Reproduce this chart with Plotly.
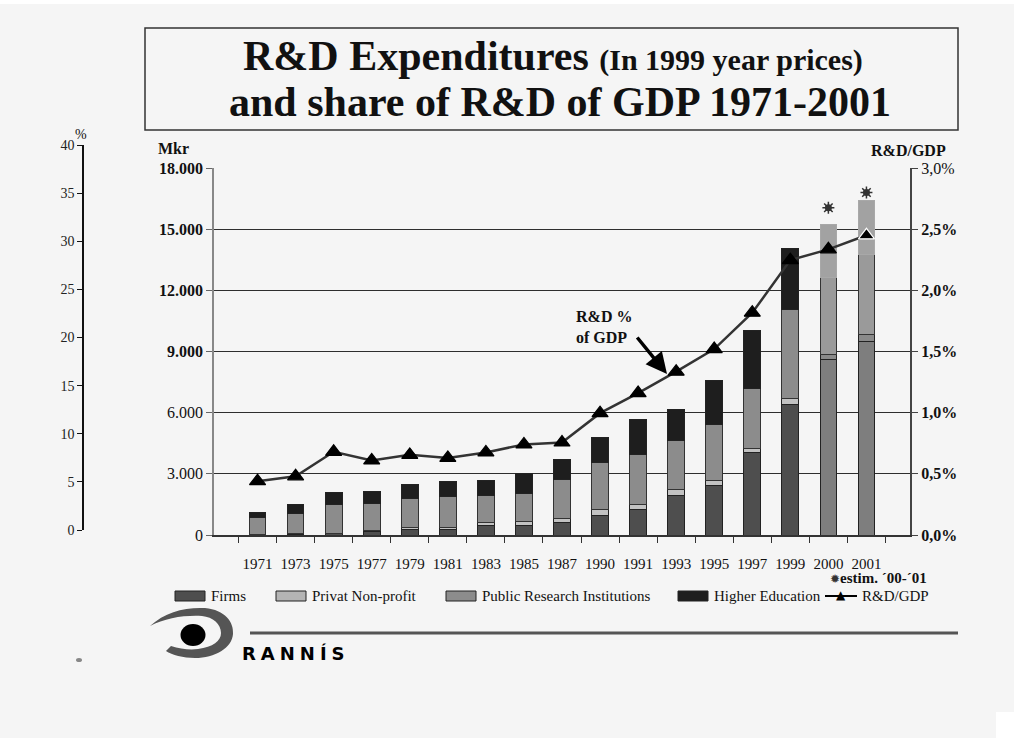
import plotly.graph_objects as go

# ---------------- data ----------------
years = ['1971', '1973', '1975', '1977', '1979', '1981', '1983', '1985', '1987',
         '1990', '1991', '1993', '1995', '1997', '1999', '2000', '2001']
firms = [20, 40, 70, 150, 260, 260, 470, 470, 617, 946, 1240, 1926, 2416, 4067, 6385, 8590, 9487]
nonprofit = [10, 10, 10, 60, 112, 112, 147, 216, 216, 328, 279, 294, 259, 196, 328, 279, 362]
public = [833, 1008, 1420, 1340, 1407, 1521, 1323, 1372, 1877, 2283, 2431, 2416, 2745, 2906, 4361, 3773, 3886]
higher = [264, 461, 572, 570, 721, 719, 755, 946, 1014, 1211, 1700, 1504, 2141, 2857, 2989, 2597, 2695]
rd_gdp = [0.44, 0.48, 0.68, 0.61, 0.655, 0.63, 0.675, 0.74, 0.756, 0.996, 1.16, 1.335, 1.52,
          1.817, 2.247, 2.335, 2.45]
est_years = ['2000', '2001']
est_marker = [16050, 16800]

series_names = ['Firms', 'Privat Non-profit', 'Public Research Institutions', 'Higher Education']
left_ticks = [0, 3000, 6000, 9000, 12000, 15000, 18000]
left_ticktext = ['0', '3.000', '6.000', '<b>9.000</b>', '<b>12.000</b>', '<b>15.000</b>', '<b>18.000</b>']
right_ticks = [0, 0.5, 1.0, 1.5, 2.0, 2.5, 3.0]
right_ticktext = ['<b>0,0%</b>', '<b>0,5%</b>', '<b>1,0%</b>', '<b>1,5%</b>', '<b>2,0%</b>', '<b>2,5%</b>', '3,0%']

# ---------------- layout geometry ----------------
W, H = 1014, 738
ML, MR, MT, MB = 83, 104, 145, 203
PW = W - ML - MR
PH = H - MT - MB


def px(x, y):
    return (x - ML) / PW, (H - MB - y) / PH


SERIF = 'Liberation Serif, Times New Roman, serif'
is_est = [y in est_years for y in years]

firm_col = ['#7e7e7e' if e else '#4e4e4e' for e in is_est]
np_col = ['#8a8a8a' if e else '#c2c2c2' for e in is_est]
pub_col = ['#9a9a9a' if e else '#8c8c8c' for e in is_est]
he_col = ['#a2a2a2' if e else '#1e1e1e' for e in is_est]
he_line = ['#a8a8a8' if e else '#222222' for e in is_est]

fig = go.Figure()
for vals, cols, lcol, name in [(firms, firm_col, '#222222', series_names[0]),
                               (nonprofit, np_col, '#222222', series_names[1]),
                               (public, pub_col, '#333333', series_names[2]),
                               (higher, he_col, he_line, series_names[3])]:
    fig.add_trace(go.Bar(x=years, y=vals, name=name, width=0.44,
                         marker=dict(color=cols, line=dict(color=lcol, width=1)),
                         showlegend=False))

# estimate markers (small sunburst)
fig.add_trace(go.Scatter(x=est_years, y=est_marker, mode='markers', showlegend=False,
                         marker=dict(symbol='asterisk-open', size=10, color='#333333',
                                     line=dict(width=1.5, color='#333333'))))
fig.add_trace(go.Scatter(x=est_years, y=est_marker, mode='markers', showlegend=False,
                         marker=dict(symbol='circle', size=7, color='#333333')))

# R&D / GDP line
mline_col = ['#000000'] * (len(years) - 1) + ['#ffffff']
fig.add_trace(go.Scatter(x=years, y=rd_gdp, yaxis='y2', mode='lines+markers', name='R&D/GDP',
                         showlegend=False,
                         line=dict(color='#333333', width=2.5),
                         marker=dict(symbol='triangle-up', size=14, color='#000000',
                                     line=dict(color=mline_col, width=1.2))))

# invisible trace to hold the left "%" axis
fig.add_trace(go.Scatter(x=[years[0]], y=[0], yaxis='y3', mode='markers', showlegend=False,
                         marker=dict(opacity=0), hoverinfo='skip'))

xdom0 = (214 - ML) / PW
ytop_main = (H - MB - 168) / PH
y3_0 = (H - MB - 530) / PH

fig.update_layout(
    width=W, height=H,
    margin=dict(l=ML, r=MR, t=MT, b=MB),
    paper_bgcolor='#f5f5f5', plot_bgcolor='rgba(0,0,0,0)',
    barmode='stack',
    font=dict(family=SERIF, color='#111111'),
    xaxis=dict(domain=[xdom0, 1], type='category', anchor='y',
               showgrid=False, showline=True, linecolor='#333333', linewidth=1.5,
               ticks='outside', tickson='boundaries', ticklen=6, tickcolor='#333333',
               tickangle=0,
               tickfont=dict(family=SERIF, size=15, color='#111111'),
               ticklabelstandoff=14, automargin=False),
    yaxis=dict(domain=[0, ytop_main], range=[0, 18000], tickvals=left_ticks, ticktext=left_ticktext,
               showgrid=True, gridcolor='#2e2e2e', gridwidth=1.3, zeroline=False,
               showline=True, linecolor='#888888', linewidth=1.5,
               ticks='outside', ticklen=6, tickcolor='#666666',
               tickfont=dict(family=SERIF, size=16, color='#111111'), automargin=False),
    yaxis2=dict(overlaying='y', side='right', anchor='x', range=[0, 3.0],
                tickvals=right_ticks, ticktext=right_ticktext, showgrid=False, zeroline=False,
                showline=True, linecolor='#444444', linewidth=2,
                ticks='outside', ticklen=6, tickcolor='#444444',
                tickfont=dict(family=SERIF, size=16, color='#111111'), automargin=False),
    yaxis3=dict(domain=[y3_0, 1], anchor='free', position=0, range=[0, 40], dtick=5,
                showgrid=False, zeroline=False, showline=True, linecolor='#111111', linewidth=1.5,
                ticks='outside', ticklen=5, tickcolor='#111111',
                tickfont=dict(family=SERIF, size=14, color='#222222'), automargin=False),
)

shapes = []
annotations = []

# title box
x0, y0 = px(145, 28)
x1, y1 = px(958, 130)
shapes.append(dict(type='rect', xref='paper', yref='paper', x0=x0, y0=y1, x1=x1, y1=y0,
                   line=dict(color='#333333', width=1.5), fillcolor='rgba(0,0,0,0)'))
tx, ty = px(553, 56)
annotations.append(dict(xref='paper', yref='paper', x=tx, y=ty, showarrow=False,
                        xanchor='center', yanchor='middle',
                        text="<b>R&D Expenditures <span style='font-size:30px'>(In 1999 year prices)</span></b>",
                        font=dict(family=SERIF, size=42, color='#111111')))
tx, ty = px(560, 102)
annotations.append(dict(xref='paper', yref='paper', x=tx, y=ty, showarrow=False,
                        xanchor='center', yanchor='middle',
                        text='<b>and share of R&D of GDP 1971-2001</b>',
                        font=dict(family=SERIF, size=42, color='#111111')))

# axis titles
for (x, y, t, anc, sz) in [(156, 148, '<b>Mkr</b>', 'left', 16),
                           (948, 151, '<b>R&D/GDP</b>', 'right', 16),
                           (81, 134, '%', 'center', 14)]:
    ax_, ay_ = px(x, y)
    annotations.append(dict(xref='paper', yref='paper', x=ax_, y=ay_, showarrow=False,
                            xanchor=anc, yanchor='middle', text=t,
                            font=dict(family=SERIF, size=sz, color='#111111')))

# R&D % of GDP label + arrow
lx, ly = px(574, 327)
annotations.append(dict(xref='paper', yref='paper', x=lx, y=ly, showarrow=False,
                        xanchor='left', yanchor='middle', align='left',
                        text='<b>R&D %<br>of GDP</b>',
                        font=dict(family=SERIF, size=16, color='#111111')))
hx, hy = px(667, 374)
annotations.append(dict(xref='paper', yref='paper', x=hx, y=hy, ax=-31, ay=-38,
                        showarrow=True, arrowhead=2, arrowsize=1.2, arrowwidth=3.5,
                        arrowcolor='#000000', text=''))

# estimate note
ex, ey = px(929, 578)
annotations.append(dict(xref='paper', yref='paper', x=ex, y=ey, showarrow=False,
                        xanchor='right', yanchor='middle',
                        text="<span style='font-size:12px;color:#333'>✹</span><b>estim. ´00-´01</b>",
                        font=dict(family=SERIF, size=15, color='#111111')))

# custom legend
leg_y = 596
swatches = [(175, '#4e4e4e'), (276, '#b4b4b4'), (446, '#8c8c8c'), (678, '#1e1e1e')]
for (sx, col), name in zip(swatches, series_names):
    a0, b0 = px(sx, leg_y - 5)
    a1, b1 = px(sx + 30, leg_y + 5)
    shapes.append(dict(type='rect', xref='paper', yref='paper', x0=a0, y0=b1, x1=a1, y1=b0,
                       line=dict(color='#222222', width=1), fillcolor=col))
    tx, ty = px(sx + 34, leg_y)
    annotations.append(dict(xref='paper', yref='paper', x=tx, y=ty, showarrow=False,
                            xanchor='left', yanchor='middle', text=name,
                            font=dict(family=SERIF, size=15, color='#111111')))
a0, b0 = px(825, leg_y)
a1, _ = px(857, leg_y)
shapes.append(dict(type='line', xref='paper', yref='paper', x0=a0, y0=b0, x1=a1, y1=b0,
                   line=dict(color='#000000', width=2)))
tx, ty = px(841, leg_y - 1)
annotations.append(dict(xref='paper', yref='paper', x=tx, y=ty, showarrow=False,
                        xanchor='center', yanchor='middle', text='▲',
                        font=dict(family='DejaVu Sans', size=12, color='#000000')))
tx, ty = px(860, leg_y)
annotations.append(dict(xref='paper', yref='paper', x=tx, y=ty, showarrow=False,
                        xanchor='left', yanchor='middle', text='R&D/GDP',
                        font=dict(family=SERIF, size=15, color='#111111')))


# logo
def path(cmds):
    out = []
    for c in cmds:
        if isinstance(c, str):
            out.append(c)
        else:
            x, y = px(*c)
            out.append(f'{x:.5f},{y:.5f}')
    return ' '.join(out)


arc = path(['M', (150, 626), 'C', (165, 612), (185, 607), (205, 608),
            'C', (225, 610), (234, 622), (233, 634),
            'C', (232, 648), (215, 658), (195, 658),
            'C', (183, 658), (172, 655), (166, 651),
            'L', (171, 646),
            'C', (180, 649), (190, 650), (198, 649),
            'C', (213, 647), (221, 641), (221, 633),
            'C', (221, 624), (213, 617), (202, 616),
            'C', (185, 615), (165, 618), (150, 626), 'Z'])
shapes.append(dict(type='path', xref='paper', yref='paper', path=arc,
                   fillcolor='#555555', line=dict(width=0)))
c0x, c0y = px(180.5, 624)
c1x, c1y = px(205.5, 646)
shapes.append(dict(type='circle', xref='paper', yref='paper', x0=c0x, y0=c1y, x1=c1x, y1=c0y,
                   fillcolor='#000000', line=dict(width=0)))
l0x, l0y = px(250, 633)
l1x, _ = px(958, 633)
shapes.append(dict(type='line', xref='paper', yref='paper', x0=l0x, y0=l0y, x1=l1x, y1=l0y,
                   line=dict(color='#555555', width=3)))
rx, ry = px(240, 653)
annotations.append(dict(xref='paper', yref='paper', x=rx, y=ry, showarrow=False,
                        xanchor='left', yanchor='middle',
                        text="<b><span style='letter-spacing:5px'>RANNÍS</span></b>",
                        font=dict(family='DejaVu Sans', size=18, color='#000000')))

# small speck left of the logo
s0x, s0y = px(76, 658)
s1x, s1y = px(82, 662)
shapes.append(dict(type='circle', xref='paper', yref='paper', x0=s0x, y0=s1y, x1=s1x, y1=s0y,
                   fillcolor='#888888', line=dict(width=0)))

# white edges of the slide
w0x, w0y = px(0, 0)
w1x, w1y = px(W, 4)
shapes.append(dict(type='rect', xref='paper', yref='paper', x0=w0x, y0=w1y, x1=w1x, y1=w0y,
                   fillcolor='#ffffff', line=dict(width=0), layer='below'))
w0x, w0y = px(996, 712)
w1x, w1y = px(W, H)
shapes.append(dict(type='rect', xref='paper', yref='paper', x0=w0x, y0=w1y, x1=w1x, y1=w0y,
                   fillcolor='#ffffff', line=dict(width=0), layer='below'))

fig.update_layout(shapes=shapes, annotations=annotations)
fig.write_html('out.html')
